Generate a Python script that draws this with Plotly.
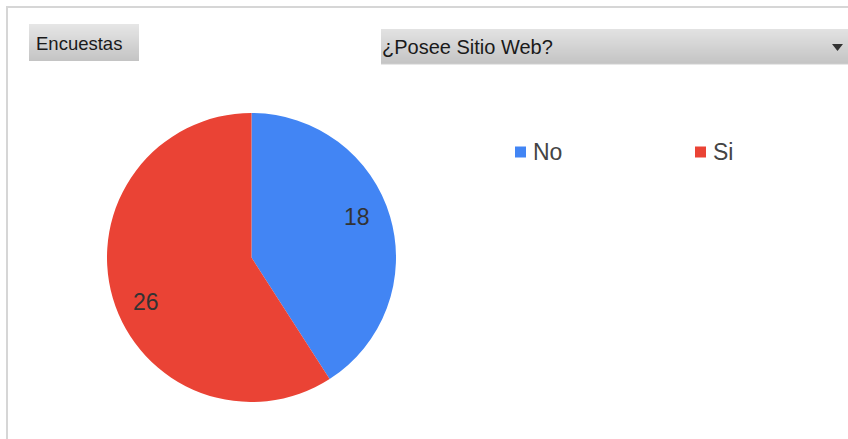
import math
import plotly.graph_objects as go

# ---- data ----
labels = ["No", "Si"]
values = [18, 26]
colors = ["#4285f4", "#ea4335"]
title_button = "Encuestas"
filter_label = "¿Posee Sitio Web?"

W, H = 848, 439

def px(x):
    return x / W

def py(y):
    return 1 - y / H

# pie geometry (pixels)
cx, cy, R = 251.5, 257.5, 144.5

fig = go.Figure(go.Pie(
    labels=labels,
    values=values,
    marker=dict(colors=colors, line=dict(width=0)),
    sort=False,
    direction="clockwise",
    rotation=0,
    textinfo="none",
    hoverinfo="label+value+percent",
    domain=dict(x=[px(cx - R), px(cx + R)], y=[py(cy + R), py(cy - R)]),
))

shapes = []
annotations = []

# frame lines
shapes.append(dict(type="line", xref="paper", yref="paper", x0=px(6), x1=1.0, y0=py(7), y1=py(7),
                   line=dict(color="#d6d6d6", width=2)))
shapes.append(dict(type="line", xref="paper", yref="paper", x0=px(7), x1=px(7), y0=py(6), y1=0,
                   line=dict(color="#d6d6d6", width=2)))

def grad_rect(x0, x1, y0, y1, top, bot):
    n = int(y1 - y0)
    for i in range(n):
        t = i / max(n - 1, 1)
        c = tuple(int(round(top[k] + (bot[k] - top[k]) * t)) for k in range(3))
        shapes.append(dict(type="rect", xref="paper", yref="paper",
                           x0=px(x0), x1=px(x1), y0=py(y0 + i + 1), y1=py(y0 + i),
                           fillcolor="rgb(%d,%d,%d)" % c, line=dict(width=0), layer="below"))

# "Encuestas" button
grad_rect(29, 139, 24, 61, (230, 230, 230), (196, 196, 196))
annotations.append(dict(text=title_button, xref="paper", yref="paper", x=px(34), y=py(43),
                        xanchor="left", yanchor="middle", showarrow=False,
                        font=dict(family="Liberation Sans, Arial", size=18.5, color="#1a1a1a")))

# dropdown
grad_rect(381, 848, 29, 64, (226, 226, 226), (196, 196, 196))
shapes.append(dict(type="line", xref="paper", yref="paper", x0=px(381), x1=1.0, y0=py(64), y1=py(64),
                   line=dict(color="#d0d0d0", width=1)))
annotations.append(dict(text=filter_label, xref="paper", yref="paper", x=px(380), y=py(47),
                        xanchor="left", yanchor="middle", showarrow=False,
                        font=dict(family="Liberation Sans, Arial", size=20, color="#1a1a1a")))
shapes.append(dict(type="path", xref="paper", yref="paper",
                   path="M %f %f L %f %f L %f %f Z" % (px(832), py(44), px(843), py(44), px(837.5), py(51)),
                   fillcolor="#333333", line=dict(width=0)))

# slice value labels computed from data
total = sum(values)
start = 0.0
for v in values:
    frac = v / total
    mid = (start + frac / 2) * 360 - 5.5
    start += frac
    r = 0.79 * R
    x = cx + r * math.sin(math.radians(mid))
    y = cy - r * math.cos(math.radians(mid)) + 2
    annotations.append(dict(text=str(v), xref="paper", yref="paper", x=px(x), y=py(y),
                            xanchor="center", yanchor="middle", showarrow=False,
                            font=dict(family="Liberation Sans, Arial", size=23, color="#333333")))

# legend (horizontal, built from labels/colors)
leg_x0, leg_y, leg_step, sq = 515, 152, 180, 11
for i, (lab, col) in enumerate(zip(labels, colors)):
    lx = leg_x0 + i * leg_step
    shapes.append(dict(type="rect", xref="paper", yref="paper",
                       x0=px(lx), x1=px(lx + sq), y0=py(leg_y + sq / 2), y1=py(leg_y - sq / 2),
                       fillcolor=col, line=dict(width=0)))
    annotations.append(dict(text=lab, xref="paper", yref="paper", x=px(lx + sq + 5), y=py(leg_y),
                            xanchor="left", yanchor="middle", showarrow=False,
                            font=dict(family="Liberation Sans, Arial", size=23, color="#444444")))

fig.update_layout(
    width=W, height=H, autosize=False,
    margin=dict(l=0, r=0, t=0, b=0),
    paper_bgcolor="white",
    plot_bgcolor="white",
    showlegend=False,
    shapes=shapes,
    annotations=annotations,
)

fig.write_html("out.html", config={"responsive": False, "displayModeBar": False})
